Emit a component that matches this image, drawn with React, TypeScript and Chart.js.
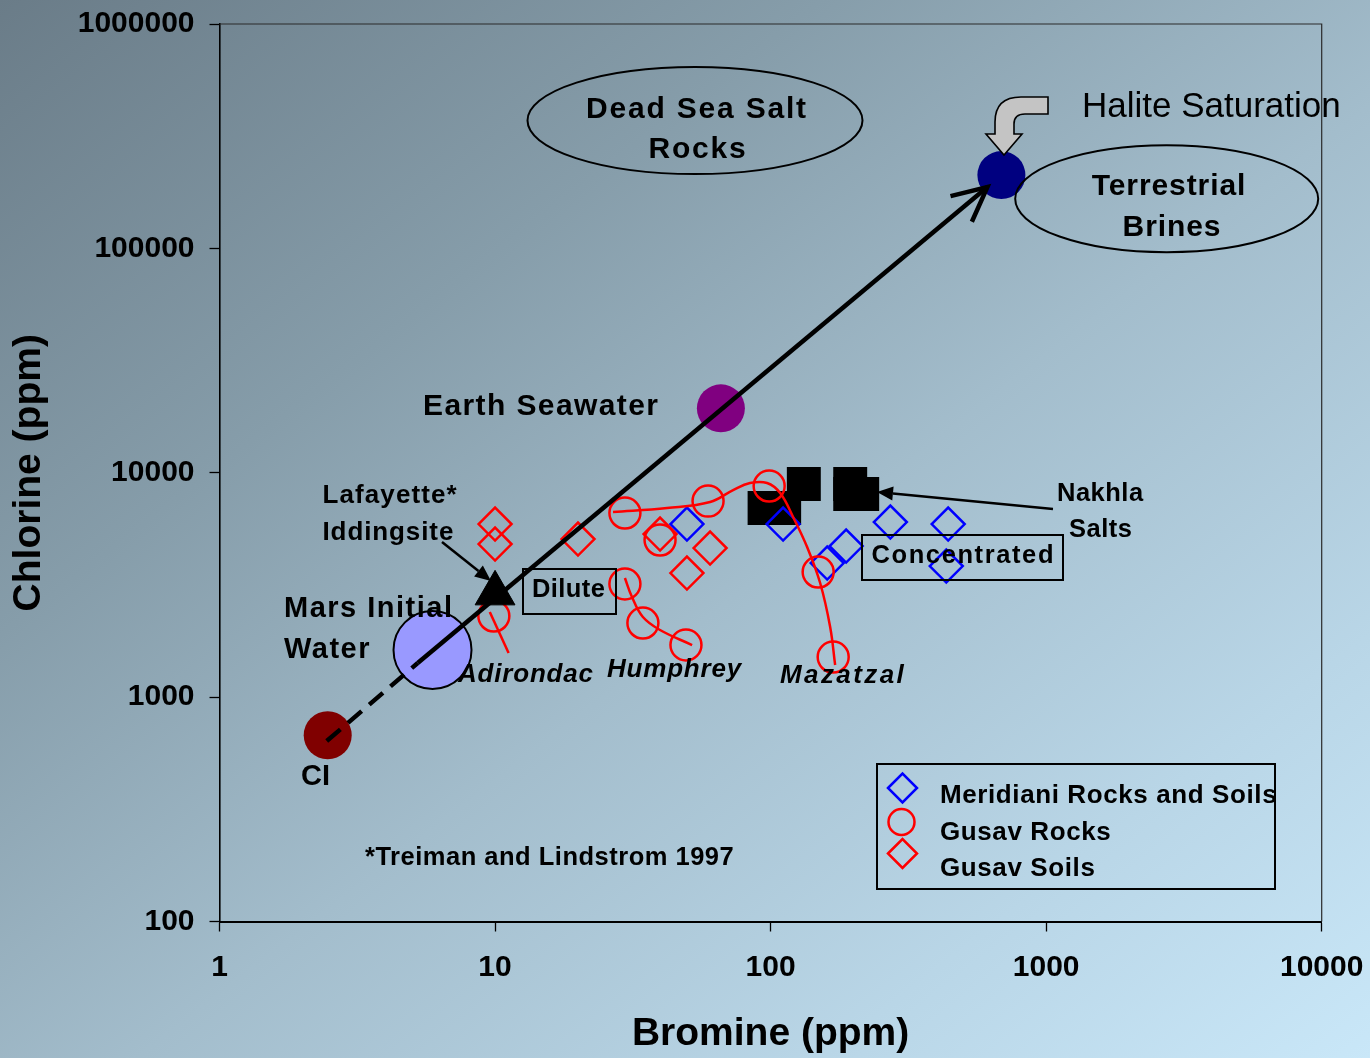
import React, { useEffect, useRef } from "react";
import { Chart, registerables } from "chart.js";

Chart.register(...registerables);

const FONT = '"Liberation Sans", Arial, Helvetica, sans-serif';

// ---- axis ticks ----
const xTickValues = [1, 10, 100, 1000, 10000];
const yTickValues = [100, 1000, 10000, 100000, 1000000];

// ---- Meridiani Rocks and Soils (Br ppm, Cl ppm) ----
const meridianiBr = [49.7, 111, 160.5, 188, 272, 441, 434];
const meridianiCl = [5907, 5907, 3958, 4714, 6030, 5907, 3839];

// ---- Gusev ("Gusav") Rocks ----
const gusevRocksBr = [9.9, 29.6, 39.7, 59.3, 98.8, 29.6, 34.4, 49.3, 148.8, 168.7];
const gusevRocksCl = [2298, 6613, 5013, 7478, 8725, 3192, 2139, 1707, 3610, 1509];

// ---- Gusev ("Gusav") Soils ----
const gusevSoilsBr = [10, 10, 20, 39.7, 60.3, 49.7];
const gusevSoilsCl = [5907, 4812, 5064, 5331, 4617, 3573];

// ---- Nakhla salts ----
const nakhlaBr = [95.1, 112, 132, 194.5, 194.5, 215];
const nakhlaCl = [6966, 6966, 8907, 8907, 8036, 8036];

// ---- Trend curves through rock groups ----
const adirondacTrendBr = [9.57, 11.2];
const adirondacTrendCl = [2394, 1573];
const humphreyTrendBr = [29.6, 31.4, 34.4, 39.7, 51.9];
const humphreyTrendCl = [3395, 2793, 2275, 1991, 1707];
const mazatzalTrendBr = [26.8, 42.1, 60.3, 73.1, 84.2, 97.1, 108.3, 120.7, 135.7, 151.3, 164.5, 171.5];
const mazatzalTrendCl = [6681, 6960, 7402, 8374, 8997, 8997, 8120, 6346, 4665, 3225, 2054, 1390];

// ---- Reference waters: CI, Mars initial water, Earth seawater, terrestrial brine ----
const refBr = [2.47, 5.93, 66, 688];
const refCl = [676, 1622, 19370, 212200];

// ---- Lafayette iddingsite ----
const lafayetteBr = [10];
const lafayetteCl = [2900];

// ---- Evolution path (dashed then solid with arrow) ----
const pathDashedBr = [2.45, 5.24];
const pathDashedCl = [637, 1419];
const pathSolidBr = [5.24, 612];
const pathSolidCl = [1419, 187600];

const toPoints = (xs: number[], ys: number[]) => xs.map((x, i) => ({ x, y: ys[i] }));

function drawText(
  ctx: CanvasRenderingContext2D,
  s: string,
  x: number,
  y: number,
  font: string,
  align: CanvasTextAlign = "left",
  ls = 0
) {
  ctx.save();
  ctx.font = font;
  ctx.fillStyle = "#000";
  ctx.textAlign = align;
  ctx.textBaseline = "alphabetic";
  (ctx as any).letterSpacing = ls + "px";
  ctx.fillText(s, x, y);
  ctx.restore();
}

function filledArrow(ctx: CanvasRenderingContext2D, x1: number, y1: number, x2: number, y2: number, lw: number, hl: number, hw: number) {
  const a = Math.atan2(y2 - y1, x2 - x1);
  const bx = x2 - Math.cos(a) * hl;
  const by = y2 - Math.sin(a) * hl;
  ctx.save();
  ctx.strokeStyle = "#000";
  ctx.fillStyle = "#000";
  ctx.lineWidth = lw;
  ctx.beginPath();
  ctx.moveTo(x1, y1);
  ctx.lineTo(bx, by);
  ctx.stroke();
  ctx.beginPath();
  ctx.moveTo(x2, y2);
  ctx.lineTo(bx + Math.sin(a) * hw, by - Math.cos(a) * hw);
  ctx.lineTo(bx - Math.sin(a) * hw, by + Math.cos(a) * hw);
  ctx.closePath();
  ctx.fill();
  ctx.restore();
}

const zeroPadding = (scale: any) => {
  scale.paddingTop = 0;
  scale.paddingBottom = 0;
  scale.paddingLeft = 0;
  scale.paddingRight = 0;
};

export default function App() {
  const ref = useRef<HTMLCanvasElement>(null);

  useEffect(() => {
    const canvas = ref.current;
    if (!canvas) return;

    const bgPlugin = {
      id: "bgGradient",
      beforeDraw(chart: any) {
        const { ctx, width, height } = chart;
        const cx = width / 2;
        const cy = height / 2;
        const len = Math.hypot(width, height);
        const ux = height / len;
        const uy = width / len;
        const half = cx * ux + cy * uy;
        const g = ctx.createLinearGradient(cx - ux * half, cy - uy * half, cx + ux * half, cy + uy * half);
        g.addColorStop(0, "rgb(106,124,136)");
        g.addColorStop(0.3, "rgb(134,157,170)");
        g.addColorStop(0.55, "rgb(163,189,204)");
        g.addColorStop(0.8, "rgb(185,214,231)");
        g.addColorStop(1, "rgb(201,231,248)");
        ctx.save();
        ctx.fillStyle = g;
        ctx.fillRect(0, 0, width, height);
        ctx.restore();
      },
    };

    const framePlugin = {
      id: "frame",
      beforeDatasetsDraw(chart: any) {
        const { ctx, chartArea: a } = chart;
        ctx.save();
        ctx.strokeStyle = "#2a2a2a";
        ctx.lineWidth = 1.2;
        ctx.beginPath();
        ctx.moveTo(a.left, a.top);
        ctx.lineTo(a.right, a.top);
        ctx.lineTo(a.right, a.bottom);
        ctx.stroke();
        ctx.restore();
      },
    };

    const annotationPlugin = {
      id: "annotations",
      afterDatasetsDraw(chart: any) {
        const ctx: CanvasRenderingContext2D = chart.ctx;
        const B = (px: number) => `bold ${px}px ${FONT}`;
        const BI = (px: number) => `italic bold ${px}px ${FONT}`;

        // main arrowhead at end of solid evolution path
        const meta = chart.getDatasetMeta(1);
        const p0 = meta.data[0];
        const p1 = meta.data[meta.data.length - 1];
        const ang = Math.atan2(p0.y - p1.y, p0.x - p1.x);
        const bl = 38;
        const spread = (26 * Math.PI) / 180;
        ctx.save();
        ctx.strokeStyle = "#000";
        ctx.lineWidth = 4.5;
        ctx.lineJoin = "miter";
        ctx.beginPath();
        ctx.moveTo(p1.x + Math.cos(ang + spread) * bl, p1.y + Math.sin(ang + spread) * bl);
        ctx.lineTo(p1.x, p1.y);
        ctx.lineTo(p1.x + Math.cos(ang - spread) * bl, p1.y + Math.sin(ang - spread) * bl);
        ctx.stroke();
        ctx.restore();

        // ellipses
        ctx.save();
        ctx.strokeStyle = "#000";
        ctx.lineWidth = 2;
        ctx.beginPath();
        ctx.ellipse(695, 120.5, 167.5, 53.5, 0, 0, Math.PI * 2);
        ctx.stroke();
        ctx.beginPath();
        ctx.ellipse(1166.7, 198.7, 151.5, 53.5, 0, 0, Math.PI * 2);
        ctx.stroke();
        // boxes
        ctx.strokeRect(523, 569, 93, 45);
        ctx.strokeRect(862, 535, 201, 45);
        ctx.restore();

        // Halite saturation bent arrow
        ctx.save();
        ctx.fillStyle = "#c4c4c4";
        ctx.strokeStyle = "#000";
        ctx.lineWidth = 1.6;
        ctx.beginPath();
        ctx.moveTo(1048, 97);
        ctx.lineTo(1021, 97);
        ctx.quadraticCurveTo(995, 97, 995, 122);
        ctx.lineTo(995, 134);
        ctx.lineTo(986, 134);
        ctx.lineTo(1004, 155);
        ctx.lineTo(1022, 134);
        ctx.lineTo(1014, 134);
        ctx.lineTo(1014, 124);
        ctx.quadraticCurveTo(1014, 114, 1025, 114);
        ctx.lineTo(1048, 114);
        ctx.closePath();
        ctx.fill();
        ctx.stroke();
        ctx.restore();

        // small pointer arrows
        filledArrow(ctx, 442, 542, 491, 581, 2.5, 16, 7);
        filledArrow(ctx, 1053, 509, 877, 492, 2.5, 16, 7);

        // texts
        drawText(ctx, "Dead Sea Salt", 697, 118, B(30), "center", 1.8);
        drawText(ctx, "Rocks", 698, 158, B(30), "center", 1.8);
        drawText(ctx, "Terrestrial", 1169, 195, B(30), "center", 0.9);
        drawText(ctx, "Brines", 1172, 236, B(30), "center", 0.9);
        drawText(ctx, "Halite Saturation", 1082, 116.5, `${35}px ${FONT}`, "left", 0);
        drawText(ctx, "Earth Seawater", 423, 415, B(30), "left", 1.4);
        drawText(ctx, "Lafayette*", 322.5, 503, B(26), "left", 1.1);
        drawText(ctx, "Iddingsite", 322.5, 540, B(26), "left", 0.9);
        drawText(ctx, "Mars Initial", 284, 617, B(29), "left", 1.5);
        drawText(ctx, "Water", 284, 658, B(29), "left", 1.5);
        drawText(ctx, "CI", 301, 785, B(29), "left", 0);
        drawText(ctx, "Dilute", 532, 597, B(25.5), "left", 0.4);
        drawText(ctx, "Concentrated", 871.5, 563, B(25.5), "left", 1.6);
        drawText(ctx, "Adirondac", 458, 682, BI(26), "left", 0.8);
        drawText(ctx, "Humphrey", 607, 677, BI(26), "left", 0.8);
        drawText(ctx, "Mazatzal", 780, 683, BI(26), "left", 2.4);
        drawText(ctx, "Nakhla", 1057, 501, B(25.5), "left", 0.5);
        drawText(ctx, "Salts", 1069, 537, B(25.5), "left", 0.5);
        drawText(ctx, "*Treiman and Lindstrom 1997", 365, 865, B(25.5), "left", 0.5);

        // legend
        const ds = chart.data.datasets;
        const mer = ds.find((d: any) => d.label === "Meridiani Rocks and Soils");
        const gr = ds.find((d: any) => d.label === "Gusav Rocks");
        const gs = ds.find((d: any) => d.label === "Gusav Soils");
        ctx.save();
        ctx.strokeStyle = "#000";
        ctx.lineWidth = 2;
        ctx.strokeRect(877, 764, 398, 125);
        ctx.lineWidth = 2.5;
        const diamond = (x: number, y: number, r: number, c: string) => {
          ctx.strokeStyle = c;
          ctx.beginPath();
          ctx.moveTo(x - r, y);
          ctx.lineTo(x, y - r);
          ctx.lineTo(x + r, y);
          ctx.lineTo(x, y + r);
          ctx.closePath();
          ctx.stroke();
        };
        diamond(902.5, 788, 14.5, mer.borderColor);
        ctx.strokeStyle = gr.borderColor;
        ctx.beginPath();
        ctx.arc(901.5, 822, 13, 0, Math.PI * 2);
        ctx.stroke();
        diamond(902.5, 853.5, 14.5, gs.borderColor);
        ctx.restore();
        drawText(ctx, "Meridiani Rocks and Soils", 940, 803, B(26), "left", 0.6);
        drawText(ctx, "Gusav Rocks", 940, 840, B(26), "left", 0.6);
        drawText(ctx, "Gusav Soils", 940, 876, B(26), "left", 0.6);
      },
    };

    const tickFont = { family: FONT, size: 30, weight: "bold" as const };
    const titleFont = { family: FONT, size: 39, weight: "bold" as const };

    const chart = new Chart(canvas, {
      type: "scatter",
      data: {
        datasets: [
          {
            label: "Evolution (dashed)",
            data: toPoints(pathDashedBr, pathDashedCl),
            showLine: true,
            borderColor: "#000",
            borderWidth: 4.5,
            borderDash: [18, 10],
            pointRadius: 0,
            order: 0,
          },
          {
            label: "Evolution",
            data: toPoints(pathSolidBr, pathSolidCl),
            showLine: true,
            borderColor: "#000",
            borderWidth: 4.5,
            pointRadius: 0,
            order: 0,
          },
          {
            label: "Lafayette Iddingsite",
            data: toPoints(lafayetteBr, lafayetteCl),
            pointStyle: "triangle",
            pointRadius: 23,
            backgroundColor: "#000",
            borderColor: "#000",
            borderWidth: 1,
            order: 1,
          },
          {
            label: "Gusav Rocks",
            data: toPoints(gusevRocksBr, gusevRocksCl),
            pointStyle: "circle",
            pointRadius: 15.5,
            backgroundColor: "rgba(0,0,0,0)",
            borderColor: "#ff0000",
            borderWidth: 2.5,
            order: 2,
          },
          {
            label: "Adirondac trend",
            data: toPoints(adirondacTrendBr, adirondacTrendCl),
            showLine: true,
            borderColor: "#ff0000",
            borderWidth: 2.5,
            pointRadius: 0,
            order: 3,
          },
          {
            label: "Humphrey trend",
            data: toPoints(humphreyTrendBr, humphreyTrendCl),
            showLine: true,
            borderColor: "#ff0000",
            borderWidth: 2.5,
            pointRadius: 0,
            tension: 0.4,
            order: 3,
          },
          {
            label: "Mazatzal trend",
            data: toPoints(mazatzalTrendBr, mazatzalTrendCl),
            showLine: true,
            borderColor: "#ff0000",
            borderWidth: 2.5,
            pointRadius: 0,
            tension: 0.4,
            order: 3,
          },
          {
            label: "Meridiani Rocks and Soils",
            data: toPoints(meridianiBr, meridianiCl),
            pointStyle: "rectRot",
            pointRadius: 16.5,
            backgroundColor: "rgba(0,0,0,0)",
            borderColor: "#0000ff",
            borderWidth: 2.5,
            order: 4,
          },
          {
            label: "Gusav Soils",
            data: toPoints(gusevSoilsBr, gusevSoilsCl),
            pointStyle: "rectRot",
            pointRadius: 16.5,
            backgroundColor: "rgba(0,0,0,0)",
            borderColor: "#ff0000",
            borderWidth: 2.5,
            order: 5,
          },
          {
            label: "Nakhla Salts",
            data: toPoints(nakhlaBr, nakhlaCl),
            pointStyle: "rect",
            pointRadius: 24,
            backgroundColor: "#000",
            borderColor: "#000",
            borderWidth: 0,
            order: 6,
          },
          {
            label: "Reference waters",
            data: toPoints(refBr, refCl),
            pointStyle: "circle",
            pointRadius: [24, 39, 24, 24],
            backgroundColor: ["#800000", "#9999ff", "#800080", "#000080"],
            borderColor: "#000",
            borderWidth: [0, 2, 0, 0],
            order: 7,
          },
        ],
      },
      options: {
        responsive: false,
        animation: false,
        events: [],
        devicePixelRatio: 1,
        layout: { autoPadding: false, padding: { left: 0, top: 24, right: 48.3, bottom: 0 } },
        plugins: {
          legend: { display: false },
          tooltip: { enabled: false },
        },
        scales: {
          x: {
            type: "logarithmic",
            position: "bottom",
            min: 1,
            max: 10000,
            afterBuildTicks: (scale: any) => {
              scale.ticks = xTickValues.map((v) => ({ value: v }));
            },
            afterFit: (scale: any) => {
              scale.height = 136.5;
              zeroPadding(scale);
            },
            ticks: {
              autoSkip: false,
              maxRotation: 0,
              padding: 18,
              color: "#000",
              font: tickFont,
              callback: (v: any) => String(v),
            },
            grid: {
              display: true,
              drawOnChartArea: false,
              drawTicks: true,
              tickLength: 10,
              tickColor: "#000",
              tickWidth: 1.3,
            },
            border: { display: true, color: "#000", width: 2 },
            title: {
              display: true,
              text: "Bromine (ppm)",
              color: "#000",
              font: titleFont,
              padding: { top: 0, bottom: 0 },
            },
          },
          y: {
            type: "logarithmic",
            position: "left",
            min: 100,
            max: 1000000,
            afterBuildTicks: (scale: any) => {
              scale.ticks = yTickValues.map((v) => ({ value: v }));
            },
            afterFit: (scale: any) => {
              scale.width = 219.5;
              zeroPadding(scale);
            },
            ticks: {
              autoSkip: false,
              padding: 15,
              color: "#000",
              font: tickFont,
              callback: (v: any) => String(v),
            },
            grid: {
              display: true,
              drawOnChartArea: false,
              drawTicks: true,
              tickLength: 10,
              tickColor: "#000",
              tickWidth: 1.3,
            },
            border: { display: true, color: "#000", width: 1.6 },
            title: {
              display: true,
              text: "Chlorine (ppm)",
              color: "#000",
              font: titleFont,
              padding: { top: 6, bottom: 0 },
            },
          },
        },
      },
      plugins: [bgPlugin, framePlugin, annotationPlugin],
    } as any);

    return () => chart.destroy();
  }, []);

  return (
    <div style={{ position: "absolute", left: 0, top: 0, width: 1370, height: 1058 }}>
      <canvas ref={ref} width={1370} height={1058} style={{ display: "block" }} />
    </div>
  );
}
